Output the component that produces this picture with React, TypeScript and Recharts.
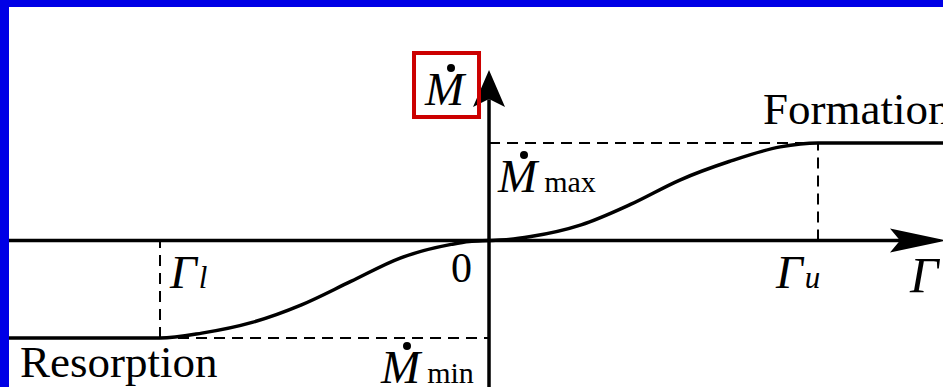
import { Line, LineChart, ReferenceDot, ReferenceLine, XAxis, YAxis } from "recharts";

// Bone remodelling rate vs. stimulus: resorption plateau, dead zone, formation plateau
const gamma = [-1.459, -1, -0.873, -0.72, -0.57, -0.42, -0.27, -0.115, -0.06, 0, 0.06, 0.127, 0.28, 0.43, 0.58, 0.73, 0.885, 1, 1.38];
const mdot = [-1, -1, -0.95, -0.84, -0.66, -0.42, -0.18, -0.04, -0.01, 0, 0.01, 0.04, 0.16, 0.37, 0.62, 0.81, 0.96, 1, 1];

const gammaL = -1;
const gammaU = 1;
const mdotMin = -1;
const mdotMax = 1;

const xDomain: [number, number] = [-1.459, 1.3799];
const yDomain: [number, number] = [-1.5026, 2.3949];
const yArrowTip = 1.749;

const labelResorption = "Resorption";
const labelFormation = "Formation";
const labelZero = "0";

const curve = gamma.map((g, i) => ({ gamma: g, mdot: mdot[i] }));

const serif = "Liberation Serif, Tinos, Times New Roman, DejaVu Serif, serif";
const dash = "11 7";

function MDotLabel({ x, y, sub }: { x: number; y: number; sub?: string }) {
  return (
    <g>
      <text x={x} y={y} style={{ fontFamily: serif }} fontSize={47} fill="#000">
        <tspan fontStyle="italic">M</tspan>
        {sub && (
          <tspan fontSize={30} dx={7}>
            {sub}
          </tspan>
        )}
      </text>
      <circle cx={x + 26} cy={y - 37} r={4} fill="#000" />
    </g>
  );
}

function GammaLabel({ x, y, sub, size = 47 }: { x: number; y: number; sub?: string; size?: number }) {
  return (
    <text x={x} y={y} style={{ fontFamily: serif }} fontSize={size} fontStyle="italic" fill="#000">
      {"Γ"}
      {sub && (
        <tspan fontSize={31} dx={2}>
          {sub}
        </tspan>
      )}
    </text>
  );
}

export default function App() {
  return (
    <div style={{ position: "absolute", left: 0, top: 0, width: 943, height: 387, background: "rgb(0,0,230)" }}>
      <div style={{ position: "absolute", left: 9, top: 7, width: 934, height: 380, background: "#fff" }}>
        <LineChart width={934} height={380} data={curve} margin={{ top: 0, right: 0, bottom: 0, left: 0 }}>
          <XAxis dataKey="gamma" type="number" domain={xDomain} allowDataOverflow hide />
          <YAxis type="number" domain={yDomain} allowDataOverflow hide />

          {/* guide lines */}
          <ReferenceLine segment={[{ x: 0, y: mdotMax }, { x: gammaU, y: mdotMax }]} stroke="#000" strokeWidth={2} strokeDasharray={dash} ifOverflow="visible" />
          <ReferenceLine segment={[{ x: gammaU, y: 0 }, { x: gammaU, y: mdotMax }]} stroke="#000" strokeWidth={2} strokeDasharray={dash} ifOverflow="visible" />
          <ReferenceLine segment={[{ x: gammaL, y: mdotMin }, { x: 0, y: mdotMin }]} stroke="#000" strokeWidth={2} strokeDasharray={dash} ifOverflow="visible" />
          <ReferenceLine segment={[{ x: gammaL, y: mdotMin }, { x: gammaL, y: 0 }]} stroke="#000" strokeWidth={2} strokeDasharray={dash} ifOverflow="visible" />

          {/* axes */}
          <ReferenceLine segment={[{ x: xDomain[0], y: 0 }, { x: xDomain[1] - 0.1, y: 0 }]} stroke="#000" strokeWidth={3.5} ifOverflow="visible" />
          <ReferenceLine segment={[{ x: 0, y: yDomain[0] }, { x: 0, y: yArrowTip - 0.3 }]} stroke="#000" strokeWidth={3.5} ifOverflow="visible" />

          <Line type="monotone" dataKey="mdot" stroke="#000" strokeWidth={3.5} dot={false} isAnimationActive={false} />

          {/* arrow heads */}
          <ReferenceDot
            x={xDomain[1]}
            y={0}
            ifOverflow="visible"
            shape={(p: any) => (
              <polygon
                points={`${p.cx + 4},${p.cy} ${p.cx - 53},${p.cy - 12} ${p.cx - 43},${p.cy} ${p.cx - 53},${p.cy + 12}`}
                fill="#000"
              />
            )}
          />
          <ReferenceDot
            x={0}
            y={yArrowTip}
            ifOverflow="visible"
            shape={(p: any) => (
              <polygon
                points={`${p.cx},${p.cy} ${p.cx + 16},${p.cy + 37} ${p.cx},${p.cy + 29} ${p.cx - 16},${p.cy + 37}`}
                fill="#000"
              />
            )}
          />

          {/* labels */}
          <ReferenceDot
            x={0}
            y={0}
            ifOverflow="visible"
            shape={(p: any) => (
              <g>
                <MDotLabel x={p.cx - 64} y={p.cy - 135.5} />
                <rect x={p.cx - 75} y={p.cy - 187.5} width={65} height={64} fill="none" stroke="rgb(204,0,0)" strokeWidth={4} />
                <text x={p.cx - 17} y={p.cy + 41.5} textAnchor="end" style={{ fontFamily: serif }} fontSize={42} fill="#000">
                  {labelZero}
                </text>
              </g>
            )}
          />
          <ReferenceDot x={0} y={mdotMax} ifOverflow="visible" shape={(p: any) => <MDotLabel x={p.cx + 9} y={p.cy + 49} sub="max" />} />
          <ReferenceDot x={0} y={mdotMin} ifOverflow="visible" shape={(p: any) => <MDotLabel x={p.cx - 108} y={p.cy + 45} sub="min" />} />
          <ReferenceDot x={gammaL} y={0} ifOverflow="visible" shape={(p: any) => <GammaLabel x={p.cx + 10} y={p.cy + 47.5} sub="l" />} />
          <ReferenceDot
            x={gammaU}
            y={0}
            ifOverflow="visible"
            shape={(p: any) => (
              <g>
                <GammaLabel x={p.cx - 42} y={p.cy + 47.5} sub="u" />
                <GammaLabel x={p.cx + 92} y={p.cy + 51.5} size={50} />
              </g>
            )}
          />
          <ReferenceDot
            x={gammaU}
            y={mdotMax}
            ifOverflow="visible"
            shape={(p: any) => (
              <text x={p.cx - 55} y={p.cy - 19} style={{ fontFamily: serif }} fontSize={45} fill="#000">
                {labelFormation}
              </text>
            )}
          />
          <ReferenceDot
            x={gammaL}
            y={mdotMin}
            ifOverflow="visible"
            shape={(p: any) => (
              <text x={p.cx - 140} y={p.cy + 39} style={{ fontFamily: serif }} fontSize={45} fill="#000">
                {labelResorption}
              </text>
            )}
          />
        </LineChart>
      </div>
    </div>
  );
}
